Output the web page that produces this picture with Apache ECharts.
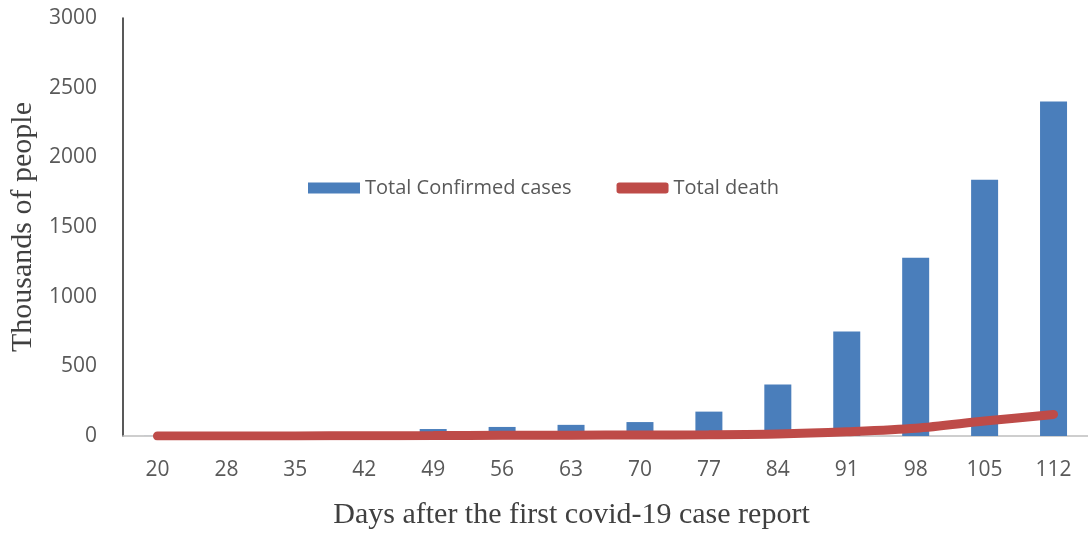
<!DOCTYPE html>
<html>
<head>
<meta charset="utf-8">
<script src="https://cdn.jsdelivr.net/npm/echarts@6/dist/echarts.min.js"></script>
<style>
  html, body { margin: 0; padding: 0; background: #fff; }
</style>
</head>
<body>
<div id="chart" style="width: 1088px; height: 535px"></div>
<script>
// days after first case report
const days = ['20', '28', '35', '42', '49', '56', '63', '70', '77', '84', '91', '98', '105', '112']
// thousands of people
const confirmed = [0.3, 1, 3, 8, 50, 65, 80, 100, 175, 370, 750, 1280, 1840, 2400]
const deaths = [0.1, 0.3, 0.6, 1.5, 3, 5, 6, 7.5, 9, 14, 30, 55, 107, 155]
const yTicks = [0, 500, 1000, 1500, 2000, 2500, 3000]

const myChart = echarts.init(document.getElementById('chart'))

const option = {
  animation: false,
  backgroundColor: '#fff',
  legend: {
    left: 303,
    top: 173,
    itemGap: 45,
    itemWidth: 52,
    itemHeight: 11,
    textStyle: { fontFamily: 'Open Sans', fontSize: 20, color: '#595959' },
    data: [
      { name: 'Total Confirmed cases', icon: 'rect' },
      { name: 'Total death', icon: 'roundRect' },
    ],
  },
  grid: {
    left: 123,
    right: -7,
    top: 18,
    bottom: 96,
  },
  xAxis: {
    type: 'category',
    data: days,
    name: 'Days after the first covid-19 case report',
    nameLocation: 'middle',
    nameGap: 64,
    nameTextStyle: { fontFamily: 'Liberation Serif', fontSize: 30, color: '#404040', padding: [0, 68, 0, 0] },
    axisLine: { lineStyle: { color: '#bfbfbf', width: 1.5 } },
    axisTick: { show: false },
    axisLabel: { margin: 24, fontFamily: 'Open Sans', fontSize: 21, color: '#595959' },
  },
  yAxis: {
    type: 'value',
    min: yTicks[0],
    max: yTicks[yTicks.length - 1],
    interval: 500,
    name: 'Thousands of people',
    nameLocation: 'middle',
    nameGap: 82,
    nameTextStyle: { fontFamily: 'Liberation Serif', fontSize: 30, color: '#404040' },
    axisLine: { show: true, lineStyle: { color: '#222', width: 1.5 } },
    axisTick: { show: false },
    splitLine: { show: false },
    axisLabel: {
      margin: 26,
      fontFamily: 'Open Sans',
      fontSize: 21,
      color: '#595959',
      formatter: (v) => String(v),
    },
  },
  series: [
    {
      name: 'Total Confirmed cases',
      type: 'bar',
      data: confirmed,
      barWidth: 27,
      itemStyle: { color: '#4a7ebb' },
    },
    {
      name: 'Total death',
      type: 'line',
      data: deaths,
      smooth: 0.3,
      symbol: 'none',
      lineStyle: { color: '#be4b48', width: 9, cap: 'round' },
      itemStyle: { color: '#be4b48' },
    },
  ],
}

myChart.setOption(option)
</script>
</body>
</html>
